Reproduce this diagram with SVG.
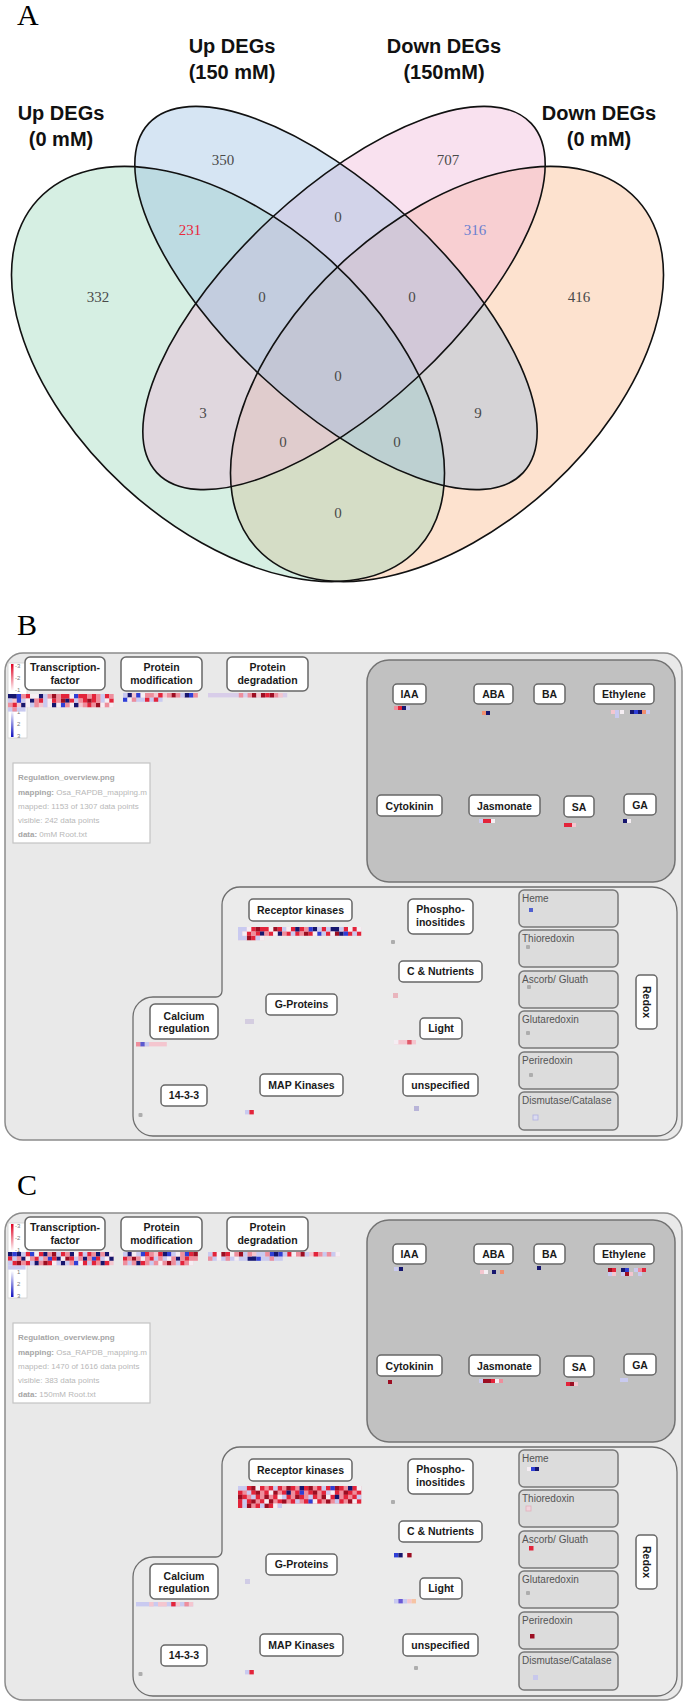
<svg xmlns="http://www.w3.org/2000/svg" width="685" height="1702" viewBox="0 0 685 1702">
<defs>
<style>
.pl{font-family:"Liberation Serif","Times New Roman",serif;font-size:30px;fill:#000}
.vt{font-family:"Liberation Sans",Arial,sans-serif;font-weight:bold;font-size:20px;fill:#111;text-anchor:middle}
.vn{font-family:"Liberation Serif","Times New Roman",serif;font-size:15px;fill:#4a4a4a;text-anchor:middle}
.vs{fill:none;stroke:#111;stroke-width:1.6}
.frame{fill:#e9e9e9;stroke:#8c8c8c;stroke-width:1.5}
.horm{fill:#c1c1c1;stroke:#737373;stroke-width:1.5}
.lower{fill:#ebebeb;stroke:#6e6e6e;stroke-width:1.3}
.lbl{fill:#fff;stroke:#676767;stroke-width:1.5}
.lt{font-family:"Liberation Sans",Arial,sans-serif;font-weight:bold;font-size:10.5px;fill:#1a1a1a;text-anchor:middle}
.rbox{fill:#dcdcdc;stroke:#787878;stroke-width:1.5}
.rt{font-family:"Liberation Sans",Arial,sans-serif;font-size:10px;fill:#555}
.it{font-family:"Liberation Sans",Arial,sans-serif;font-size:8px;fill:#b8b8b8}
.ik{font-weight:bold;fill:#a6a6a6}
.lg{font-family:"Liberation Sans",Arial,sans-serif;font-size:6px;fill:#777}
.hN{fill:#16166e}.hB{fill:#2f3fd6}.hR{fill:#e3243a}.hD{fill:#9c0e22}.hP{fill:#ee8e9c}.hp{fill:#f4c6cf}.hl{fill:#c9caf0}.hw{fill:#f5eef3}.ho{fill:#f09070}.hg{fill:#adadad}
</style>
<linearGradient id="gR" x1="0" y1="0" x2="0" y2="1"><stop offset="0" stop-color="#e00020"/><stop offset="1" stop-color="#fff"/></linearGradient>
<linearGradient id="gB" x1="0" y1="0" x2="0" y2="1"><stop offset="0" stop-color="#fff"/><stop offset="1" stop-color="#1010c0"/></linearGradient>
<clipPath id="infoClip"><rect x="13" y="763" width="137" height="80"/></clipPath>
</defs>
<rect width="685" height="1702" fill="#fff"/>

<!-- Panel A -->
<g id="panelA">
<text class="pl" x="17" y="25">A</text>
<g id="venn-fills" fill-opacity="0.4">
<ellipse cx="447" cy="374" rx="258" ry="153" transform="rotate(-42.5 447 374)" fill="#fab787"/>
<ellipse cx="228" cy="374" rx="258" ry="153" transform="rotate(42.5 228 374)" fill="#99d7b9"/>
<ellipse cx="344" cy="298" rx="256" ry="108" transform="rotate(-43 344 298)" fill="#f0b4d7"/>
<ellipse cx="336" cy="298" rx="256" ry="108" transform="rotate(43 336 298)" fill="#99bee1"/>
</g>
<g id="venn-outlines">
<ellipse class="vs" cx="447" cy="374" rx="258" ry="153" transform="rotate(-42.5 447 374)"/>
<ellipse class="vs" cx="228" cy="374" rx="258" ry="153" transform="rotate(42.5 228 374)"/>
<ellipse class="vs" cx="344" cy="298" rx="256" ry="108" transform="rotate(-43 344 298)"/>
<ellipse class="vs" cx="336" cy="298" rx="256" ry="108" transform="rotate(43 336 298)"/>
</g>
<g id="venn-titles">
<text class="vt" x="232" y="53">Up DEGs</text><text class="vt" x="232" y="79">(150 mM)</text>
<text class="vt" x="444" y="53">Down DEGs</text><text class="vt" x="444" y="79">(150mM)</text>
<text class="vt" x="61" y="120">Up DEGs</text><text class="vt" x="61" y="146">(0 mM)</text>
<text class="vt" x="599" y="120">Down DEGs</text><text class="vt" x="599" y="146">(0 mM)</text>
</g>
<g id="venn-counts">
<text class="vn" x="223" y="165">350</text>
<text class="vn" x="448" y="165">707</text>
<text class="vn" x="190" y="235" style="fill:#e8283c">231</text>
<text class="vn" x="475" y="235" style="fill:#6b7fd0">316</text>
<text class="vn" x="98" y="302">332</text>
<text class="vn" x="579" y="302">416</text>
<text class="vn" x="338" y="222">0</text>
<text class="vn" x="262" y="302">0</text>
<text class="vn" x="412" y="302">0</text>
<text class="vn" x="338" y="381">0</text>
<text class="vn" x="203" y="418">3</text>
<text class="vn" x="478" y="418">9</text>
<text class="vn" x="283" y="447">0</text>
<text class="vn" x="397" y="447">0</text>
<text class="vn" x="338" y="518">0</text>
</g>
</g>

<!-- Panel B -->
<g id="panelB">
<text class="pl" x="17" y="635">B</text>
<g id="b-frame">
<rect class="frame" x="5" y="653" width="677" height="487" rx="18"/>
<rect class="horm" x="367" y="660" width="308" height="222" rx="22"/>
<path class="lower" d="M240 887H652A25 25 0 0 1 677 912V1116A20 20 0 0 1 657 1136H153A20 20 0 0 1 133 1116V1017A20 20 0 0 1 153 997H216A6 6 0 0 0 222 991V905A18 18 0 0 1 240 887Z"/>
</g>
<g id="b-legend">
<rect x="8" y="663" width="19" height="75" fill="#fff" stroke="#cfcfcf" stroke-width="0.8"/>
<rect x="11" y="664" width="2.5" height="27" fill="url(#gR)"/>
<rect x="11" y="711" width="2.5" height="26" fill="url(#gB)"/>
<text class="lg" x="15" y="668">-3</text><text class="lg" x="15" y="680">-2</text><text class="lg" x="15" y="692">-1</text>
<text class="lg" x="17" y="714">1</text><text class="lg" x="17" y="726">2</text><text class="lg" x="17" y="738">3</text>
</g>
<g id="b-info">
<rect x="13" y="763" width="137" height="80" fill="#fff" stroke="#c4c4c4" stroke-width="1.2"/>
<g clip-path="url(#infoClip)">
<text class="it" x="18" y="780"><tspan class="ik">Regulation_overview.png</tspan></text>
<text class="it" x="18" y="795"><tspan class="ik">mapping:</tspan> Osa_RAPDB_mapping.m</text>
<text class="it" x="18" y="809">mapped: 1153 of 1307 data points</text>
<text class="it" x="18" y="823">visible: 242 data points</text>
<text class="it" x="18" y="837"><tspan class="ik">data:</tspan> 0mM Root.txt</text>
</g>
</g>
<g id="b-heatmaps">
<g transform="translate(8,694) scale(4.4)">
<rect width="24" height="3" class="hp"/><rect y="3" width="4" height="1" class="hl"/>
<path class="hN" d="M0 0h2v1h-2zM7 0h1v1h-1zM5 1h1v1h-1zM13 1h1v1h-1zM3 2h1v1h-1zM10 2h1v1h-1zM15 2h1v1h-1z"/>
<path class="hB" d="M2 0h1v1h-1zM15 0h1v1h-1zM2 1h1v1h-1zM12 2h1v1h-1z"/>
<path class="hR" d="M4 0h1v1h-1zM12 0h2v1h-2zM16 0h2v1h-2zM19 0h1v1h-1zM22 0h1v1h-1zM7 1h1v1h-1zM10 1h1v1h-1zM14 1h1v1h-1zM17 1h1v1h-1zM19 1h1v1h-1zM23 1h1v1h-1zM1 2h1v1h-1zM18 2h1v1h-1z"/>
<path class="hD" d="M10 0h1v1h-1zM12 1h1v1h-1zM18 1h1v1h-1zM20 2h1v1h-1z"/>
<path class="hl" d="M8 0h1v1h-1zM21 0h1v1h-1zM0 1h1v1h-1zM3 1h1v1h-1zM8 1h1v1h-1zM15 1h1v1h-1zM21 1h1v1h-1zM5 2h1v1h-1zM8 2h1v1h-1z"/>
<path class="hw" d="M5 0h2v1h-2zM14 0h1v1h-1zM4 1h1v1h-1zM9 1h1v1h-1zM22 1h1v1h-1zM4 2h1v1h-1zM9 2h1v1h-1zM11 2h1v1h-1zM14 2h1v1h-1zM21 2h1v1h-1zM23 2h1v1h-1z"/>
<path class="hP" d="M3 0h1v1h-1zM9 0h1v1h-1zM11 0h1v1h-1zM18 0h1v1h-1zM20 0h1v1h-1zM23 0h1v1h-1zM6 1h1v1h-1zM11 1h1v1h-1zM16 1h1v1h-1zM20 1h1v1h-1zM0 2h1v1h-1zM6 2h1v1h-1zM13 2h1v1h-1zM17 2h1v1h-1zM19 2h1v1h-1zM22 2h1v1h-1zM1 3h1v1h-1z"/>
</g>
<g transform="translate(123,693) scale(4.4)">
<rect width="17" height="1" class="hp"/><rect y="1" width="9" height="1" class="hl"/>
<path class="hN" d="M1 0h1v1h-1zM14 0h1v1h-1z"/>
<path class="hB" d="M3 0h1v1h-1zM15 0h1v1h-1zM0 1h1v1h-1z"/>
<path class="hR" d="M8 0h1v1h-1zM5 1h1v1h-1zM7 1h1v1h-1z"/>
<path class="hD" d="M11 0h1v1h-1z"/>
<path class="hl" d="M0 0h1v1h-1zM13 0h1v1h-1z"/>
<path class="hw" d="M4 0h1v1h-1zM1 1h1v1h-1z"/>
<path class="hP" d="M5 0h2v1h-2zM10 0h1v1h-1zM12 0h1v1h-1zM2 1h1v1h-1zM16 0h1v1h-1z"/>
</g>
<g transform="translate(208,693) scale(4.4)">
<rect width="18" height="1" class="hl" style="fill:#d8cde9"/>
<path class="hP" d="M9 0h1v1h-1zM15 0h1v1h-1zM7 0h1v1h-1z"/>
<path class="hD" d="M10 0h1v1h-1zM12 0h1v1h-1zM14 0h1v1h-1z"/>
<path class="hR" d="M13 0h1v1h-1z"/>
<path class="hp" d="M11 0h1v1h-1zM16 0h1v1h-1z"/>
</g>
<g id="b-horm-cells">
<rect x="394" y="706" width="4" height="4" class="hP"/><rect x="398" y="706" width="4" height="4" class="hR"/><rect x="402" y="706" width="4" height="4" class="hN"/><rect x="406" y="706" width="4" height="4" class="hl"/>
<rect x="482" y="711" width="4" height="4" class="ho"/><rect x="486" y="711" width="4" height="4" class="hN"/>
<rect x="611" y="710" width="4" height="4" class="hp"/><rect x="615" y="710" width="4" height="4" class="hl"/><rect x="615" y="714" width="4" height="4" class="hl"/><rect x="620" y="710" width="4" height="4" class="hw"/><rect x="630" y="710" width="4" height="4" class="hN"/><rect x="634" y="710" width="4" height="4" class="hB"/><rect x="638" y="710" width="4" height="4" class="hN"/><rect x="642" y="710" width="4" height="4" class="ho"/><rect x="646" y="710" width="4" height="4" class="hl"/>
<rect x="479" y="819" width="4" height="4" class="hl"/><rect x="483" y="819" width="4" height="4" class="hR"/><rect x="487" y="819" width="4" height="4" class="hR"/><rect x="491" y="819" width="4" height="4" class="hw"/>
<rect x="564" y="823" width="4" height="4" class="hR"/><rect x="568" y="823" width="4" height="4" class="hR"/><rect x="572" y="823" width="4" height="4" class="hp"/>
<rect x="623" y="819" width="4" height="4" class="hN"/><rect x="627" y="819" width="4" height="4" class="hw"/>
</g>
<g transform="translate(238,927) scale(4.4)">
<rect width="28" height="2" class="hp"/><rect y="2" width="6" height="1" class="hp"/>
<path class="hR" d="M3 0h1v1h-1zM5 0h2v1h-2zM9 0h1v1h-1zM12 0h1v1h-1zM14 0h1v1h-1zM19 0h1v1h-1zM24 0h1v1h-1zM26 0h1v1h-1zM2 1h1v1h-1zM4 1h1v1h-1zM7 1h1v1h-1zM11 1h1v1h-1zM13 1h1v1h-1zM16 1h1v1h-1zM20 1h1v1h-1zM25 1h1v1h-1zM27 1h1v1h-1zM3 2h1v1h-1z"/>
<path class="hD" d="M4 0h1v1h-1zM8 0h1v1h-1zM15 1h1v1h-1zM22 1h1v1h-1zM2 2h1v1h-1z"/>
<path class="hN" d="M13 0h1v1h-1zM17 0h1v1h-1zM21 0h2v1h-2zM5 1h1v1h-1zM9 1h1v1h-1zM23 1h1v1h-1z"/>
<path class="hB" d="M16 0h1v1h-1zM18 1h1v1h-1zM24 1h1v1h-1z"/>
<path class="hl" d="M0 0h2v1h-2zM10 0h1v1h-1zM18 0h1v1h-1zM20 0h1v1h-1zM23 0h1v1h-1zM0 1h1v1h-1zM12 1h1v1h-1zM19 1h1v1h-1zM26 1h1v1h-1zM0 2h2v1h-2zM4 2h1v1h-1z"/>
<path class="hw" d="M2 0h1v1h-1zM7 0h1v1h-1zM11 0h1v1h-1zM25 0h1v1h-1zM27 0h1v1h-1zM1 1h1v1h-1zM8 1h1v1h-1zM17 1h1v1h-1zM21 1h1v1h-1zM5 2h1v1h-1z"/>
<path class="hP" d="M15 0h1v1h-1zM3 1h1v1h-1zM6 1h1v1h-1zM10 1h1v1h-1zM14 1h1v1h-1z"/>
</g>
<rect x="245" y="1019" width="9" height="5" fill="#d4cde0"/>
<g transform="translate(136,1042) scale(4.4)">
<rect width="7" height="1" class="hp"/>
<path class="hP" d="M0 0h1v1h-1z"/><path class="hB" d="M1 0h1v1h-1z" style="fill:#5a5ad0"/><path class="hl" d="M2 0h1v1h-1z"/>
</g>
<rect x="245" y="1110" width="4.4" height="4.4" class="hl"/><rect x="249.4" y="1110" width="4.4" height="4.4" class="hR"/>
<rect x="138.5" y="1113" width="4" height="4" rx="1" class="hg"/>
<rect x="391" y="940" width="4" height="4" rx="1" class="hg"/>
<rect x="393" y="993" width="5" height="5" fill="#e9b5bd"/>
<g transform="translate(394,1040) scale(4.4)">
<rect width="5" height="1" class="hp"/><path class="hw" d="M0 0h1v1h-1z"/><path class="hR" d="M3 0h1v1h-1z" style="fill:#e05a6a"/>
</g>
<rect x="414" y="1106" width="5" height="5" fill="#b8b4d8"/>
</g>
<g id="b-nodes">
<g id="b-tf"><rect class="lbl" x="25" y="657" width="80" height="33" rx="5"/><text class="lt" x="65" y="670.5">Transcription-</text><text class="lt" x="65" y="683.5">factor</text></g>
<g id="b-pmod"><rect class="lbl" x="121" y="657" width="81" height="34" rx="5"/><text class="lt" x="161.5" y="670.5">Protein</text><text class="lt" x="161.5" y="683.5">modification</text></g>
<g id="b-pdeg"><rect class="lbl" x="227" y="657" width="81" height="34" rx="5"/><text class="lt" x="267.5" y="670.5">Protein</text><text class="lt" x="267.5" y="683.5">degradation</text></g>
<g id="b-iaa"><rect class="lbl" x="393" y="684" width="33" height="20" rx="4"/><text class="lt" x="409.5" y="697.8">IAA</text></g>
<g id="b-aba"><rect class="lbl" x="474" y="684" width="39" height="20" rx="4"/><text class="lt" x="493.5" y="697.8">ABA</text></g>
<g id="b-ba"><rect class="lbl" x="534" y="684" width="31" height="20" rx="4"/><text class="lt" x="549.5" y="697.8">BA</text></g>
<g id="b-eth"><rect class="lbl" x="594" y="684" width="60" height="20" rx="4"/><text class="lt" x="624" y="697.8">Ethylene</text></g>
<g id="b-cyt"><rect class="lbl" x="377" y="795" width="65" height="21" rx="4"/><text class="lt" x="409.5" y="809.5">Cytokinin</text></g>
<g id="b-jas"><rect class="lbl" x="469" y="795" width="71" height="21" rx="4"/><text class="lt" x="504.5" y="809.5">Jasmonate</text></g>
<g id="b-sa"><rect class="lbl" x="564" y="796" width="30" height="21" rx="4"/><text class="lt" x="579" y="810.5">SA</text></g>
<g id="b-ga"><rect class="lbl" x="624" y="794" width="32" height="21" rx="4"/><text class="lt" x="640" y="808.5">GA</text></g>
<g id="b-rk"><rect class="lbl" x="249" y="899" width="103" height="22" rx="4"/><text class="lt" x="300.5" y="913.7">Receptor kinases</text></g>
<g id="b-phos"><rect class="lbl" x="408" y="899" width="65" height="35" rx="5"/><text class="lt" x="440.5" y="913">Phospho-</text><text class="lt" x="440.5" y="926">inositides</text></g>
<g id="b-cn"><rect class="lbl" x="399" y="961" width="83" height="21" rx="4"/><text class="lt" x="440.5" y="975.3">C &amp; Nutrients</text></g>
<g id="b-gp"><rect class="lbl" x="266" y="994" width="71" height="21" rx="4"/><text class="lt" x="301.5" y="1008.3">G-Proteins</text></g>
<g id="b-ca"><rect class="lbl" x="150" y="1004" width="68" height="35" rx="5"/><text class="lt" x="184" y="1019.5">Calcium</text><text class="lt" x="184" y="1032">regulation</text></g>
<g id="b-light"><rect class="lbl" x="420" y="1018" width="42" height="21" rx="4"/><text class="lt" x="441" y="1032.3">Light</text></g>
<g id="b-1433"><rect class="lbl" x="161" y="1085" width="46" height="21" rx="4"/><text class="lt" x="184" y="1099.3">14-3-3</text></g>
<g id="b-map"><rect class="lbl" x="260" y="1074" width="83" height="22" rx="4"/><text class="lt" x="301.5" y="1088.7">MAP Kinases</text></g>
<g id="b-unsp"><rect class="lbl" x="403" y="1074" width="75" height="22" rx="4"/><text class="lt" x="440.5" y="1088.7">unspecified</text></g>
<g id="b-redox"><rect class="lbl" x="636" y="975" width="21" height="54" rx="4"/><text class="lt" transform="translate(643.2 1002) rotate(90)">Redox</text></g>
<g id="b-heme"><rect class="rbox" x="519" y="890" width="99" height="37" rx="5"/><text class="rt" x="522" y="902">Heme</text><rect x="529" y="908" width="4" height="4" fill="#5060d0"/></g>
<g id="b-thio"><rect class="rbox" x="519" y="930" width="99" height="37" rx="5"/><text class="rt" x="522" y="942">Thioredoxin</text><rect x="526" y="945" width="4" height="4" rx="1" class="hg"/></g>
<g id="b-asc"><rect class="rbox" x="519" y="971" width="99" height="37" rx="5"/><text class="rt" x="522" y="983">Ascorb/ Gluath</text><rect x="527" y="985" width="4" height="4" rx="1" class="hg"/></g>
<g id="b-glu"><rect class="rbox" x="519" y="1011" width="99" height="37" rx="5"/><text class="rt" x="522" y="1023">Glutaredoxin</text><rect x="526" y="1031" width="4" height="4" rx="1" class="hg"/></g>
<g id="b-peri"><rect class="rbox" x="519" y="1052" width="99" height="37" rx="5"/><text class="rt" x="522" y="1064">Periredoxin</text><rect x="529" y="1073" width="4" height="4" rx="1" class="hg"/></g>
<g id="b-dism"><rect class="rbox" x="519" y="1092" width="99" height="38" rx="5"/><text class="rt" x="522" y="1104">Dismutase/Catalase</text><rect x="533" y="1115" width="5" height="5" fill="#dcdcf0" stroke="#b0b0e0" stroke-width="0.8"/></g>
</g>
</g>

<!-- Panel C -->
<text class="pl" x="17" y="1195">C</text>
<g id="panelC" transform="translate(0,560)">
<g id="c-frame">
<rect class="frame" x="5" y="653" width="677" height="487" rx="18"/>
<rect class="horm" x="367" y="660" width="308" height="222" rx="22"/>
<path class="lower" d="M240 887H652A25 25 0 0 1 677 912V1116A20 20 0 0 1 657 1136H153A20 20 0 0 1 133 1116V1017A20 20 0 0 1 153 997H216A6 6 0 0 0 222 991V905A18 18 0 0 1 240 887Z"/>
</g>
<g id="c-legend">
<rect x="8" y="663" width="19" height="75" fill="#fff" stroke="#cfcfcf" stroke-width="0.8"/>
<rect x="11" y="664" width="2.5" height="27" fill="url(#gR)"/>
<rect x="11" y="711" width="2.5" height="26" fill="url(#gB)"/>
<text class="lg" x="15" y="668">-3</text><text class="lg" x="15" y="680">-2</text><text class="lg" x="15" y="692">-1</text>
<text class="lg" x="17" y="714">1</text><text class="lg" x="17" y="726">2</text><text class="lg" x="17" y="738">3</text>
</g>
<g id="c-info">
<rect x="13" y="763" width="137" height="80" fill="#fff" stroke="#c4c4c4" stroke-width="1.2"/>
<g clip-path="url(#infoClip)">
<text class="it" x="18" y="780"><tspan class="ik">Regulation_overview.png</tspan></text>
<text class="it" x="18" y="795"><tspan class="ik">mapping:</tspan> Osa_RAPDB_mapping.m</text>
<text class="it" x="18" y="809">mapped: 1470 of 1616 data points</text>
<text class="it" x="18" y="823">visible: 383 data points</text>
<text class="it" x="18" y="837"><tspan class="ik">data:</tspan> 150mM Root.txt</text>
</g>
</g>
<g id="c-heatmaps">
<g transform="translate(8,692) scale(4.4)">
<rect width="24" height="3" class="hp"/><rect y="3" width="4" height="1" class="hl"/>
<path class="hN" d="M0 0h1v1h-1zM2 0h1v1h-1zM8 0h1v1h-1zM14 0h1v1h-1zM20 0h1v1h-1zM22 0h1v1h-1zM3 1h1v1h-1zM11 1h1v1h-1zM17 1h1v1h-1zM23 1h1v1h-1zM6 2h1v1h-1zM12 2h1v1h-1zM21 2h1v1h-1z"/>
<path class="hB" d="M1 0h1v1h-1zM5 0h1v1h-1zM9 1h1v1h-1zM19 1h1v1h-1zM15 2h1v1h-1z"/>
<path class="hR" d="M4 0h1v1h-1zM7 0h1v1h-1zM12 0h1v1h-1zM16 0h1v1h-1zM18 0h1v1h-1zM0 1h1v1h-1zM6 1h1v1h-1zM10 1h1v1h-1zM14 1h1v1h-1zM20 1h1v1h-1zM1 2h1v1h-1zM4 2h1v1h-1zM9 2h1v1h-1zM17 2h1v1h-1zM19 2h1v1h-1zM22 2h1v1h-1z"/>
<path class="hD" d="M10 0h1v1h-1zM13 1h1v1h-1zM2 2h1v1h-1zM8 2h1v1h-1z"/>
<path class="hl" d="M3 0h1v1h-1zM11 0h1v1h-1zM17 0h1v1h-1zM1 1h1v1h-1zM7 1h1v1h-1zM15 1h1v1h-1zM21 1h1v1h-1zM0 2h1v1h-1zM5 2h1v1h-1zM11 2h1v1h-1zM13 2h1v1h-1zM18 2h1v1h-1z"/>
<path class="hw" d="M6 0h1v1h-1zM15 0h1v1h-1zM23 0h1v1h-1zM4 1h1v1h-1zM12 1h1v1h-1zM22 1h1v1h-1zM10 2h1v1h-1zM16 2h1v1h-1z"/>
<path class="hP" d="M9 0h1v1h-1zM13 0h1v1h-1zM19 0h1v1h-1zM21 0h1v1h-1zM2 1h1v1h-1zM5 1h1v1h-1zM8 1h1v1h-1zM16 1h1v1h-1zM18 1h1v1h-1zM3 2h1v1h-1zM7 2h1v1h-1zM14 2h1v1h-1zM20 2h1v1h-1z"/>
</g>
<g transform="translate(123,692) scale(4.4)">
<rect width="17" height="2" class="hp"/><rect y="2" width="16" height="1" class="hp"/>
<path class="hN" d="M1 0h1v1h-1zM9 0h1v1h-1zM12 1h1v1h-1zM3 2h1v1h-1z"/>
<path class="hB" d="M4 0h1v1h-1zM10 0h1v1h-1zM14 0h1v1h-1z"/>
<path class="hR" d="M5 0h1v1h-1zM8 0h1v1h-1zM15 0h1v1h-1zM0 1h1v1h-1zM6 1h1v1h-1zM14 1h1v1h-1zM4 2h1v1h-1zM13 2h1v1h-1z"/>
<path class="hD" d="M16 0h1v1h-1zM2 1h1v1h-1zM10 2h1v1h-1z"/>
<path class="hl" d="M0 0h1v1h-1zM3 0h1v1h-1zM11 0h1v1h-1zM7 1h1v1h-1zM9 1h1v1h-1zM1 2h1v1h-1zM6 2h1v1h-1zM12 2h1v1h-1z"/>
<path class="hw" d="M2 0h1v1h-1zM12 0h1v1h-1zM4 1h1v1h-1zM10 1h1v1h-1zM8 2h1v1h-1zM15 2h1v1h-1z"/>
<path class="hP" d="M6 0h1v1h-1zM13 0h1v1h-1zM1 1h1v1h-1zM3 1h1v1h-1zM5 1h1v1h-1zM8 1h1v1h-1zM11 1h1v1h-1zM13 1h1v1h-1zM15 1h2v1h-2zM0 2h1v1h-1zM2 2h1v1h-1zM5 2h1v1h-1zM7 2h1v1h-1zM9 2h1v1h-1zM11 2h1v1h-1zM14 2h1v1h-1z"/>
</g>
<g transform="translate(208,692) scale(4.4)">
<rect width="30" height="1" class="hp"/><rect y="1" width="17" height="1" class="hl"/>
<path class="hN" d="M15 0h1v1h-1zM9 1h2v1h-2z"/>
<path class="hB" d="M14 0h1v1h-1zM16 0h1v1h-1zM11 1h1v1h-1z"/>
<path class="hR" d="M1 0h1v1h-1zM4 0h1v1h-1zM18 0h1v1h-1zM24 0h1v1h-1z"/>
<path class="hD" d="M3 0h1v1h-1zM7 0h1v1h-1zM21 0h1v1h-1z"/>
<path class="hl" d="M0 0h1v1h-1zM8 0h1v1h-1zM11 0h2v1h-2zM17 0h1v1h-1zM22 0h1v1h-1zM26 0h1v1h-1zM28 0h1v1h-1z"/>
<path class="hw" d="M2 0h1v1h-1zM5 0h1v1h-1zM19 0h1v1h-1zM29 0h1v1h-1zM2 1h1v1h-1zM6 1h1v1h-1z"/>
<path class="hP" d="M6 0h1v1h-1zM9 0h1v1h-1zM13 0h1v1h-1zM20 0h1v1h-1zM25 0h1v1h-1zM27 0h1v1h-1zM0 1h1v1h-1zM4 1h1v1h-1zM14 1h1v1h-1z"/>
</g>
<g id="c-horm-cells">
<rect x="394" y="707" width="4" height="4" class="hl"/><rect x="399" y="707" width="4" height="4" class="hN"/>
<rect x="480" y="710" width="4" height="4" class="hp"/><rect x="484" y="710" width="4" height="4" class="hw"/><rect x="492" y="710" width="4" height="4" class="hN"/><rect x="500" y="710" width="4" height="4" class="ho"/>
<rect x="537" y="706" width="4" height="4" class="hN"/>
<rect x="608" y="708" width="4" height="4" class="hD"/><rect x="612" y="708" width="4" height="4" class="hR"/><rect x="621" y="708" width="4" height="4" class="hN"/><rect x="625" y="708" width="4" height="4" class="hB"/><rect x="634" y="708" width="4" height="4" class="hl"/><rect x="638" y="708" width="4" height="4" class="hP"/><rect x="642" y="708" width="4" height="4" class="hR"/>
<rect x="608" y="712" width="4" height="4" class="hl"/><rect x="612" y="712" width="4" height="4" class="hp"/><rect x="621" y="712" width="4" height="4" class="hl"/><rect x="625" y="712" width="4" height="4" class="hD"/><rect x="629" y="712" width="4" height="4" class="hp"/><rect x="638" y="712" width="4" height="4" class="hl"/>
<rect x="388" y="820" width="4" height="4" class="hD"/>
<rect x="479" y="819" width="4" height="4" class="hl"/><rect x="483" y="819" width="4" height="4" class="hD"/><rect x="487" y="819" width="4" height="4" class="hD"/><rect x="491" y="819" width="4" height="4" class="hR"/><rect x="495" y="819" width="4" height="4" class="hw"/><rect x="499" y="819" width="4" height="4" class="hP"/>
<rect x="566" y="822" width="4" height="4" class="hR"/><rect x="570" y="822" width="4" height="4" class="hD"/><rect x="574" y="822" width="4" height="4" class="hp"/>
<rect x="620" y="818" width="4" height="4" class="hl"/><rect x="624" y="818" width="4" height="4" class="hl"/>
</g>
<g transform="translate(238,926) scale(4.4)">
<rect width="28" height="4" class="hP"/><rect y="4" width="10" height="1" class="hP"/>
<path class="hR" d="M2 0h1v1h-1zM5 0h1v1h-1zM7 0h1v1h-1zM9 0h1v1h-1zM12 0h1v1h-1zM15 0h1v1h-1zM18 0h1v1h-1zM20 0h1v1h-1zM23 0h1v1h-1zM26 0h1v1h-1zM0 1h1v1h-1zM3 1h1v1h-1zM6 1h1v1h-1zM10 1h1v1h-1zM13 1h1v1h-1zM16 1h1v1h-1zM19 1h1v1h-1zM22 1h1v1h-1zM25 1h1v1h-1zM27 1h1v1h-1zM1 2h1v1h-1zM4 2h1v1h-1zM8 2h1v1h-1zM11 2h1v1h-1zM14 2h1v1h-1zM17 2h1v1h-1zM21 2h1v1h-1zM24 2h1v1h-1zM26 2h1v1h-1zM0 3h1v1h-1zM2 3h1v1h-1zM5 3h1v1h-1zM9 3h1v1h-1zM12 3h1v1h-1zM15 3h1v1h-1zM18 3h1v1h-1zM23 3h1v1h-1zM27 3h1v1h-1zM0 4h1v1h-1zM4 4h1v1h-1zM7 4h1v1h-1z"/>
<path class="hD" d="M3 0h1v1h-1zM11 0h1v1h-1zM16 0h1v1h-1zM22 0h1v1h-1zM4 1h1v1h-1zM8 1h1v1h-1zM17 1h1v1h-1zM24 1h1v1h-1zM0 2h1v1h-1zM6 2h1v1h-1zM13 2h1v1h-1zM19 2h1v1h-1zM3 3h1v1h-1zM7 3h1v1h-1zM10 3h1v1h-1zM20 3h1v1h-1zM25 3h1v1h-1zM2 4h1v1h-1zM6 4h1v1h-1z"/>
<path class="hN" d="M14 0h1v1h-1zM25 0h1v1h-1zM11 1h1v1h-1zM22 2h1v1h-1z"/>
<path class="hB" d="M21 0h1v1h-1zM14 1h1v1h-1zM16 3h1v1h-1z"/>
<path class="hl" d="M0 0h2v1h-2zM8 0h1v1h-1zM19 0h1v1h-1zM2 1h1v1h-1zM20 1h1v1h-1zM3 2h1v1h-1zM10 2h1v1h-1zM16 2h1v1h-1zM27 2h1v1h-1zM1 3h1v1h-1zM13 3h1v1h-1zM22 3h1v1h-1zM1 4h1v1h-1zM5 4h1v1h-1zM9 4h1v1h-1z"/>
<path class="hw" d="M4 0h1v1h-1zM27 0h1v1h-1zM7 1h1v1h-1zM21 1h1v1h-1zM9 2h1v1h-1zM20 2h1v1h-1zM6 3h1v1h-1zM17 3h1v1h-1zM26 3h1v1h-1zM8 4h1v1h-1z"/>
</g>
<rect x="245" y="1019" width="5" height="5" fill="#d0cce6"/>
<g transform="translate(136,1042) scale(4.4)">
<rect width="13" height="1" class="hl"/>
<path class="hp" d="M3 0h1v1h-1zM5 0h2v1h-2zM9 0h1v1h-1zM12 0h1v1h-1z"/>
<path class="hR" d="M8 0h1v1h-1z"/><path class="hP" d="M11 0h1v1h-1z"/>
</g>
<rect x="245" y="1110" width="4.4" height="4.4" class="hl"/><rect x="249.4" y="1110" width="4.4" height="4.4" class="hR"/>
<rect x="138.5" y="1112" width="4" height="4" rx="1" class="hg"/>
<rect x="391" y="940" width="4" height="4" rx="1" class="hg"/>
<g transform="translate(394,993) scale(4.4)">
<path class="hB" d="M0 0h1v1h-1z"/><path class="hN" d="M1 0h1v1h-1z"/><path class="hw" d="M2 0h1v1h-1z"/><path class="hD" d="M3 0h1v1h-1z"/>
</g>
<g transform="translate(394,1039) scale(4.4)">
<path class="hl" d="M0 0h1v1h-1zM2 0h1v1h-1z"/><path class="hB" d="M1 0h1v1h-1z" style="fill:#6a5ad8"/><path class="hp" d="M3 0h1v1h-1z"/><path class="ho" d="M4 0h1v1h-1z" style="fill:#f6c4a4"/>
</g>
<rect x="414" y="1106" width="4" height="4" rx="1" class="hg"/>
</g>
<g id="c-nodes">
<g id="c-tf"><rect class="lbl" x="25" y="657" width="80" height="33" rx="5"/><text class="lt" x="65" y="670.5">Transcription-</text><text class="lt" x="65" y="683.5">factor</text></g>
<g id="c-pmod"><rect class="lbl" x="121" y="657" width="81" height="34" rx="5"/><text class="lt" x="161.5" y="670.5">Protein</text><text class="lt" x="161.5" y="683.5">modification</text></g>
<g id="c-pdeg"><rect class="lbl" x="227" y="657" width="81" height="34" rx="5"/><text class="lt" x="267.5" y="670.5">Protein</text><text class="lt" x="267.5" y="683.5">degradation</text></g>
<g id="c-iaa"><rect class="lbl" x="393" y="684" width="33" height="20" rx="4"/><text class="lt" x="409.5" y="697.8">IAA</text></g>
<g id="c-aba"><rect class="lbl" x="474" y="684" width="39" height="20" rx="4"/><text class="lt" x="493.5" y="697.8">ABA</text></g>
<g id="c-ba"><rect class="lbl" x="534" y="684" width="31" height="20" rx="4"/><text class="lt" x="549.5" y="697.8">BA</text></g>
<g id="c-eth"><rect class="lbl" x="594" y="684" width="60" height="20" rx="4"/><text class="lt" x="624" y="697.8">Ethylene</text></g>
<g id="c-cyt"><rect class="lbl" x="377" y="795" width="65" height="21" rx="4"/><text class="lt" x="409.5" y="809.5">Cytokinin</text></g>
<g id="c-jas"><rect class="lbl" x="469" y="795" width="71" height="21" rx="4"/><text class="lt" x="504.5" y="809.5">Jasmonate</text></g>
<g id="c-sa"><rect class="lbl" x="564" y="796" width="30" height="21" rx="4"/><text class="lt" x="579" y="810.5">SA</text></g>
<g id="c-ga"><rect class="lbl" x="624" y="794" width="32" height="21" rx="4"/><text class="lt" x="640" y="808.5">GA</text></g>
<g id="c-rk"><rect class="lbl" x="249" y="899" width="103" height="22" rx="4"/><text class="lt" x="300.5" y="913.7">Receptor kinases</text></g>
<g id="c-phos"><rect class="lbl" x="408" y="899" width="65" height="35" rx="5"/><text class="lt" x="440.5" y="913">Phospho-</text><text class="lt" x="440.5" y="926">inositides</text></g>
<g id="c-cn"><rect class="lbl" x="399" y="961" width="83" height="21" rx="4"/><text class="lt" x="440.5" y="975.3">C &amp; Nutrients</text></g>
<g id="c-gp"><rect class="lbl" x="266" y="994" width="71" height="21" rx="4"/><text class="lt" x="301.5" y="1008.3">G-Proteins</text></g>
<g id="c-ca"><rect class="lbl" x="150" y="1004" width="68" height="35" rx="5"/><text class="lt" x="184" y="1019.5">Calcium</text><text class="lt" x="184" y="1032">regulation</text></g>
<g id="c-light"><rect class="lbl" x="420" y="1018" width="42" height="21" rx="4"/><text class="lt" x="441" y="1032.3">Light</text></g>
<g id="c-1433"><rect class="lbl" x="161" y="1085" width="46" height="21" rx="4"/><text class="lt" x="184" y="1099.3">14-3-3</text></g>
<g id="c-map"><rect class="lbl" x="260" y="1074" width="83" height="22" rx="4"/><text class="lt" x="301.5" y="1088.7">MAP Kinases</text></g>
<g id="c-unsp"><rect class="lbl" x="403" y="1074" width="75" height="22" rx="4"/><text class="lt" x="440.5" y="1088.7">unspecified</text></g>
<g id="c-redox"><rect class="lbl" x="636" y="975" width="21" height="54" rx="4"/><text class="lt" transform="translate(643.2 1002) rotate(90)">Redox</text></g>
<g id="c-heme"><rect class="rbox" x="519" y="890" width="99" height="37" rx="5"/><text class="rt" x="522" y="902">Heme</text><rect x="527" y="907" width="4" height="4" class="hw"/><rect x="531" y="907" width="4" height="4" class="hB"/><rect x="535" y="907" width="4" height="4" class="hN"/></g>
<g id="c-thio"><rect class="rbox" x="519" y="930" width="99" height="37" rx="5"/><text class="rt" x="522" y="942">Thioredoxin</text><rect x="526" y="946" width="5" height="5" fill="#f0d4dc" stroke="#e0b0bc" stroke-width="0.8"/></g>
<g id="c-asc"><rect class="rbox" x="519" y="971" width="99" height="37" rx="5"/><text class="rt" x="522" y="983">Ascorb/ Gluath</text><rect x="529" y="986" width="4.5" height="4.5" class="hR"/></g>
<g id="c-glu"><rect class="rbox" x="519" y="1011" width="99" height="37" rx="5"/><text class="rt" x="522" y="1023">Glutaredoxin</text><rect x="526" y="1031" width="4" height="4" rx="1" class="hg"/></g>
<g id="c-peri"><rect class="rbox" x="519" y="1052" width="99" height="37" rx="5"/><text class="rt" x="522" y="1064">Periredoxin</text><rect x="530" y="1074" width="4.5" height="4.5" class="hD"/></g>
<g id="c-dism"><rect class="rbox" x="519" y="1092" width="99" height="38" rx="5"/><text class="rt" x="522" y="1104">Dismutase/Catalase</text><rect x="533" y="1115" width="5" height="5" fill="#c8c8ec"/></g>
</g>
</g>
</svg>
